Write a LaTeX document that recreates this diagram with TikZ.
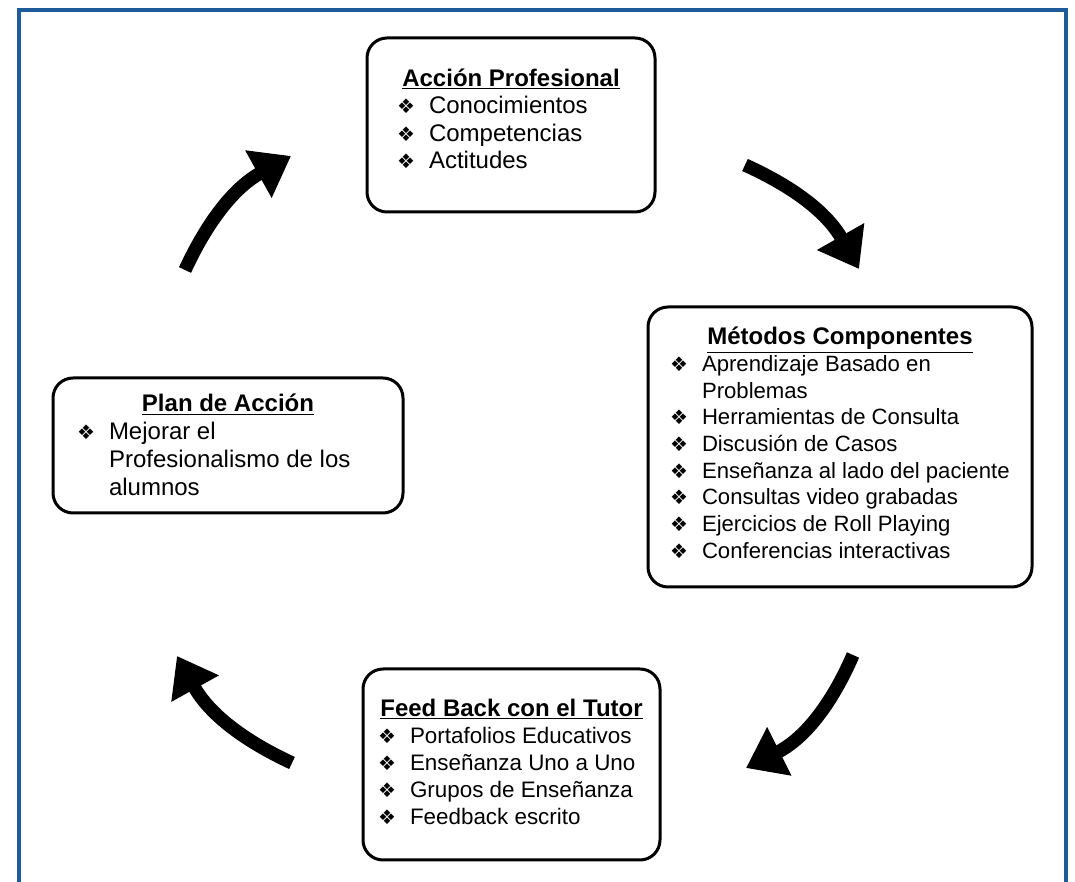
\documentclass[tikz,border=0pt]{standalone}
\usepackage{fontspec}
\setmainfont{Liberation Sans}
\newfontfamily\symfont{DejaVu Sans}
\usetikzlibrary{arrows.meta}
\definecolor{frameblue}{RGB}{31,90,154}
\newcommand{\bul}{{\symfont\fontsize{15}{15}\selectfont ❖}}
\newcommand{\itm}[1]{\par\noindent\makebox[24pt][l]{\bul}\mbox{#1}}
\newcommand{\itmc}[1]{\par\noindent\hspace*{24pt}\mbox{#1}}
\newcommand{\ttl}[1]{\noindent\makebox[\linewidth][c]{\fontsize{18}{20}\selectfont\rule{0pt}{17pt}\underline{\textbf{#1}}}}
\newcommand{\boxbody}[4]{\parbox[c][#1][t]{#2}{\fontsize#3\selectfont #4}}
\tikzset{
  stage/.style={draw, line width=2.25pt, rounded corners=15pt},
  flow/.style={line width=10pt, -{Triangle[length=28pt,width=39pt]}}
}
\begin{document}
\begin{tikzpicture}[x=0.75pt, y=0.75pt]
  \useasboundingbox (0,0) rectangle (1075,882);
  \draw [frameblue, line width=3pt] (19,0) -- (19,872) -- (1066,872) -- (1066,0);

  \node [stage, inner xsep=22.5pt, inner ysep=19.5pt] (accion) at (511,757)
    {\boxbody{91.5pt}{171pt}{{18}{20.5}}{\ttl{Acción Profesional}
      \itm{Conocimientos}
      \itm{Competencias}
      \itm{Actitudes}}};
  \node [stage, inner xsep=16.5pt, inner ysep=11.5pt] (metodos) at (840,435)
    {\boxbody{187pt}{255pt}{{16.6}{20}}{\ttl{Métodos Componentes}
      \itm{Aprendizaje Basado en}
      \itmc{Problemas}
      \itm{Herramientas de Consulta}
      \itm{Discusión de Casos}
      \itm{Enseñanza al lado del paciente}
      \itm{Consultas video grabadas}
      \itm{Ejercicios de Roll Playing}
      \itm{Conferencias interactivas}}};
  \node [stage, inner xsep=11.25pt, inner ysep=18.75pt] (feedback) at (511.5,117.5)
    {\boxbody{105.75pt}{200.25pt}{{16.8}{20.25}}{\ttl{Feed Back con el Tutor}
      \itm{Portafolios Educativos}
      \itm{Enseñanza Uno a Uno}
      \itm{Grupos de Enseñanza}
      \itm{Feedback escrito}}};
  \node [stage, inner xsep=18pt, inner ysep=8.5pt] (plan) at (228,436.5)
    {\boxbody{84.25pt}{226.5pt}{{18}{21}}{\ttl{Plan de Acción}
      \itm{Mejorar el}
      \itmc{Profesionalismo de los}
      \itmc{alumnos}}};

  \coordinate (tl-s) at (185,612);
  \coordinate (tl-e) at (291,726);
  \coordinate (tr-s) at (745,717);
  \coordinate (tr-e) at (859,613);
  \coordinate (br-s) at (853,227);
  \coordinate (br-e) at (746,114);
  \coordinate (bl-s) at (292,119);
  \coordinate (bl-e) at (177,226);
  \draw [flow] (tl-s) to [bend left=18] (tl-e);
  \draw [flow] (tr-s) to [bend left=18] (tr-e);
  \draw [flow] (br-s) to [bend left=20] (br-e);
  \draw [flow] (bl-s) to [bend left=18] (bl-e);
\end{tikzpicture}
\end{document}
